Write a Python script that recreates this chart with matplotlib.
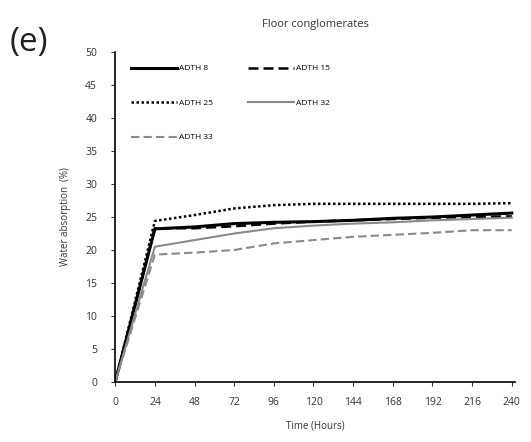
import matplotlib.pyplot as plt

plt.rcParams['font.family'] = ['Open Sans', 'DejaVu Sans']

hours = [0, 24, 48, 72, 96, 120, 144, 168, 192, 216, 240]
adth8 = [0, 23.2, 23.5, 24.0, 24.2, 24.3, 24.5, 24.8, 25.0, 25.3, 25.6]
adth15 = [0, 23.3, 23.3, 23.6, 24.0, 24.3, 24.5, 24.7, 24.9, 25.0, 25.1]
adth25 = [0, 24.4, 25.3, 26.3, 26.8, 27.0, 27.0, 27.0, 27.0, 27.0, 27.1]
adth32 = [0, 20.5, 21.5, 22.5, 23.3, 23.7, 24.0, 24.2, 24.5, 24.7, 24.9]
adth33 = [0, 19.3, 19.6, 20.0, 21.0, 21.5, 22.0, 22.3, 22.6, 23.0, 23.0]

fig = plt.figure(figsize=(5.31, 4.42), dpi=100)
ax = fig.add_axes([0.217, 0.136, 0.753, 0.746])

l8, = ax.plot(hours, adth8, color='black', lw=2.2, label='ADTH 8')
l15, = ax.plot(hours, adth15, color='black', lw=1.8, ls=(0, (4, 2)), label='ADTH 15')
l25, = ax.plot(hours, adth25, color='black', lw=1.8, ls=(0, (1, 1)), label='ADTH 25')
l32, = ax.plot(hours, adth32, color='#8a8a8a', lw=1.5, label='ADTH 32')
l33, = ax.plot(hours, adth33, color='#8a8a8a', lw=1.5, ls=(0, (4, 2)), label='ADTH 33')

ax.set_xlim(0, 242)
ax.set_ylim(0, 50)
ax.set_xticks(hours)
ax.set_yticks(range(0, 51, 5))
ax.tick_params(labelsize=7.5, length=3, colors='#333333')
ax.tick_params(axis='x', pad=8)
ax.tick_params(axis='y', pad=10)
for s in ['top', 'right']:
    ax.spines[s].set_visible(False)
for s in ['left', 'bottom']:
    ax.spines[s].set_linewidth(1.2)

ax.set_xlabel('Time (Hours)', fontsize=7, color='#333333', labelpad=9)
ax.set_ylabel('Water absorption  (%)', fontsize=7, color='#333333', labelpad=10)
ax.set_title('Floor conglomerates', fontsize=8, color='#333333', pad=18)

# row-wise order like the original legend
handles = [l8, l25, l33, l15, l32]
ax.legend(handles, [h.get_label() for h in handles], loc='upper left', ncol=2,
          frameon=False, fontsize=6, handlelength=5.5, labelspacing=3.2,
          columnspacing=4.2, handletextpad=0.3, bbox_to_anchor=(0.02, 0.985))

fig.text(0.018, 0.885, '(e)', fontsize=24, color='#222222')

fig.savefig('out.png')
